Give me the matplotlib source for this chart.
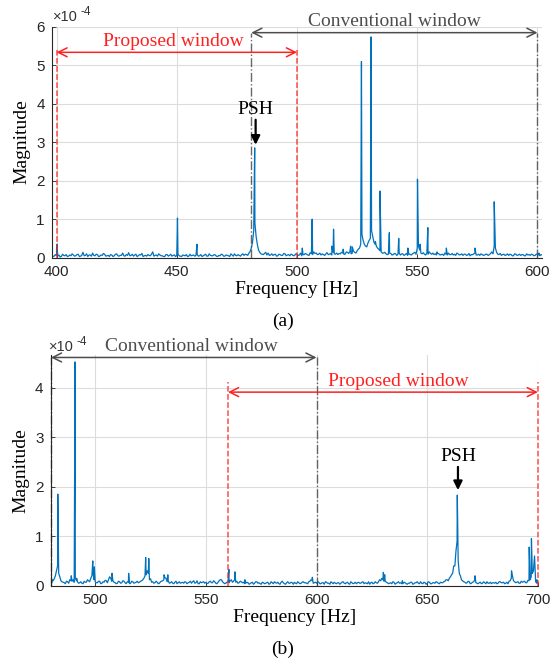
import matplotlib
matplotlib.use("Agg")
import matplotlib.pyplot as plt

# ---------------- data (magnitudes in units of 1e-4) ----------------
# (a) baseline noise, 1 Hz steps from 398 Hz, in hundredths of 1e-4
a_base_start = 398
a_base = [
    6, 4, 5, 7, 3, 6, 8, 4, 5, 7,
    5, 9, 4, 14, 6, 3, 7, 12, 5, 8,
    4, 6, 9, 5, 3, 7, 5, 10, 4, 6,
    5, 8, 13, 6, 4, 9, 5, 7, 3, 6,
    8, 5, 15, 6, 4, 7, 5, 3, 8, 6,
    4, 7, 6, 5, 3, 6, 8, 4, 5, 7,
    6, 4, 8, 5, 9, 4, 6, 5, 7, 3,
    5, 8, 4, 6, 3, 7, 10, 5, 6, 8,
    6, 8, 12, 25, 70, 55, 20, 10, 8, 14,
    12, 7, 6, 9, 5, 8, 6, 10, 7, 5,
    8, 6, 9, 7, 5, 8, 9, 6, 10, 15,
    12, 9, 7, 8, 10, 8, 11, 14, 9, 8,
    10, 12, 9, 14, 16, 12, 14, 18, 25, 60,
    35, 28, 45, 70, 40, 30, 22, 15, 12, 10,
    9, 11, 8, 10, 9, 7, 10, 8, 6, 9,
    10, 14, 25, 20, 10, 9, 12, 15, 9, 8,
    7, 10, 8, 6, 9, 12, 8, 7, 6, 10,
    8, 6, 9, 7, 5, 8, 12, 7, 6, 8,
    7, 9, 8, 15, 30, 14, 8, 6, 9, 7,
    6, 8, 5, 9, 7, 6, 8, 5, 7, 6,
    8, 6, 10, 5, 7,
]
# (a) baseline noise at the half-Hz points (398.5 Hz, 399.5 Hz, ...)
a_base_half = [
    3, 8, 4, 2, 9, 5, 3, 7, 10, 4,
    8, 3, 6, 5, 10, 7, 4, 6, 9, 3,
    7, 11, 4, 6, 8, 3, 9, 5, 6, 12,
    4, 6, 5, 9, 7, 3, 8, 11, 5, 4,
    6, 9, 4, 7, 10, 5, 3, 8, 4, 9,
    6, 3, 9, 4, 7, 5, 3, 9, 6, 4,
    8, 5, 3, 7, 4, 10, 5, 8, 4, 6,
    9, 4, 7, 5, 10, 4, 6, 8, 4, 10,
    9, 6, 16, 40, 90, 35, 14, 9, 11, 7,
    6, 10, 8, 4, 9, 6, 11, 5, 8, 9,
    5, 10, 6, 12, 8, 11, 7, 13, 8, 11,
    8, 12, 10, 6, 13, 9, 7, 10, 12, 11,
    14, 9, 15, 11, 10, 17, 12, 22, 35, 45,
    30, 38, 50, 55, 35, 25, 18, 12, 14, 8,
    12, 7, 11, 6, 12, 10, 6, 11, 9, 7,
    12, 9, 30, 12, 13, 7, 9, 11, 12, 10,
    11, 7, 9, 12, 7, 8, 11, 9, 12, 7,
    10, 9, 6, 11, 8, 10, 7, 9, 10, 6,
    9, 6, 11, 10, 25, 9, 11, 8, 6, 10,
    9, 5, 10, 6, 9, 8, 5, 10, 8, 9,
    5, 9, 7, 8, 10,
]
a_peak_freq = [400.2, 450.3, 458.4, 482.4, 502.2, 506.3, 514.5, 515.2, 519.2,
               522.3, 523.0, 526.8, 530.8, 532.6, 534.5, 538.4, 542.3, 546.1,
               550.1, 551.2, 554.4, 558.2, 562.1, 574.0, 582.0, 600.6]
a_peak_mag = [0.35, 1.03, 0.35, 2.85, 0.25, 1.00, 0.30, 0.74, 0.22,
              0.30, 0.28, 5.09, 5.73, 0.42, 1.73, 0.65, 0.50, 0.25,
              2.04, 0.35, 0.78, 0.15, 0.25, 0.25, 1.45, 0.12]

# (b) baseline noise, 1 Hz steps from 480 Hz, in hundredths of 1e-4
b_base_start = 480
b_base = [
    8, 10, 20, 40, 18, 8, 6, 9, 5, 10,
    12, 15, 8, 6, 5, 9, 7, 10, 15, 25,
    8, 6, 9, 5, 7, 10, 12, 15, 10, 6,
    5, 8, 6, 9, 4, 7, 5, 8, 6, 9,
    7, 10, 15, 22, 25, 14, 8, 6, 7, 5,
    9, 12, 15, 10, 6, 5, 7, 4, 8, 6,
    5, 7, 6, 9, 8, 5, 10, 4, 6, 8,
    7, 5, 9, 6, 8, 4, 10, 12, 6, 5,
    8, 10, 7, 12, 9, 6, 8, 7, 5, 6,
    4, 7, 5, 8, 6, 3, 6, 5, 7, 4,
    6, 8, 5, 4, 7, 6, 3, 8, 5, 6,
    7, 4, 6, 5, 8, 6, 4, 9, 10, 6,
    5, 7, 4, 6, 8, 5, 3, 6, 7, 4,
    6, 5, 8, 4, 7, 3, 6, 5, 4, 7,
    5, 8, 6, 4, 3, 7, 5, 6, 8, 10,
    12, 10, 6, 5, 4, 7, 5, 8, 6, 4,
    6, 3, 5, 7, 4, 6, 5, 8, 4, 6,
    5, 7, 4, 6, 8, 5, 7, 6, 9, 12,
    15, 22, 40, 70, 50, 20, 10, 7, 6, 8,
    5, 8, 6, 4, 7, 5, 6, 8, 5, 4,
    6, 7, 5, 8, 6, 4, 7, 9, 15, 10,
    6, 8, 5, 7, 9, 6, 10, 18, 30, 8,
    6,
]
# (b) baseline noise at the half-Hz points (480.5 Hz, 481.5 Hz, ...)
b_base_half = [
    6, 14, 30, 25, 10, 7, 4, 8, 12, 9,
    7, 10, 5, 8, 4, 7, 12, 8, 20, 12,
    6, 9, 4, 8, 11, 6, 18, 9, 7, 4,
    9, 5, 10, 6, 8, 4, 9, 5, 7, 6,
    9, 12, 20, 30, 12, 7, 5, 9, 4, 8,
    10, 16, 8, 5, 8, 4, 9, 6, 5, 7,
    8, 4, 7, 5, 10, 6, 4, 8, 7, 5,
    4, 8, 6, 10, 5, 7, 12, 8, 4, 7,
    6, 12, 9, 7, 5, 9, 6, 4, 7, 3,
    6, 3, 8, 5, 4, 7, 4, 6, 3, 8,
    4, 6, 7, 3, 9, 4, 6, 5, 7, 3,
    5, 8, 4, 7, 6, 5, 8, 12, 5, 7,
    8, 4, 6, 3, 7, 5, 8, 4, 5, 6,
    3, 7, 5, 6, 4, 8, 4, 7, 6, 5,
    7, 4, 5, 8, 6, 4, 8, 5, 12, 15,
    9, 7, 4, 6, 8, 3, 6, 5, 4, 7,
    4, 5, 7, 3, 6, 8, 4, 5, 7, 3,
    8, 4, 6, 5, 7, 4, 6, 8, 12, 10,
    18, 25, 40, 90, 25, 12, 8, 5, 9, 4,
    7, 12, 5, 6, 4, 8, 4, 5, 7, 6,
    5, 4, 8, 6, 7, 5, 4, 10, 20, 8,
    7, 5, 9, 8, 6, 11, 12, 25, 60, 5,
    4,
]
b_peak_freq = [480.6, 483.1, 489.2, 490.9, 491.6, 498.9, 499.6, 507.6, 515.1,
               522.8, 524.2, 531.1, 532.8, 557.1, 560.4, 563.1, 567.6, 598.1,
               630.2, 630.8, 638.8, 663.6, 671.6, 688.1, 696.1, 697.1, 699.6]
b_peak_mag = [0.12, 1.85, 0.20, 4.52, 0.15, 0.50, 0.38, 0.25, 0.25,
              0.57, 0.55, 0.22, 0.22, 0.12, 0.33, 0.28, 0.12, 0.17,
              0.27, 0.22, 0.10, 1.83, 0.20, 0.30, 0.78, 0.95, 0.12]

a_xticks = [400, 450, 500, 550, 600]
a_yticks = [0, 1, 2, 3, 4, 5, 6]
b_xticks = [500, 550, 600, 650, 700]
b_yticks = [0, 1, 2, 3, 4]

a_conv = (481, 600)
a_prop = (400, 500)
a_psh = 482.4
b_conv = (480, 600)
b_prop = (560, 700)
b_psh = 663.6


def merge(start, base, half, pf, pm):
    pts = [(start + i, v / 100.0) for i, v in enumerate(base)]
    pts += [(start + i + 0.5, v / 100.0) for i, v in enumerate(half)]
    pts += list(zip(pf, pm))
    pts.sort()
    return [p[0] for p in pts], [p[1] for p in pts]


# ---------------- style ----------------
SANS = "Liberation Sans"
SERIF = "Liberation Serif"
BLUE = "#0072BD"
RED = "#FF2020"
GRAY = "#4D4D4D"
TICKC = "#262626"

fig = plt.figure(figsize=(5.57, 6.62), dpi=100)
W, H = 557.0, 662.0


def make_ax(l, r, t, b):
    return fig.add_axes([l / W, 1 - b / H, (r - l) / W, (b - t) / H])


def style(ax, xticks, yticks):
    ax.set_xticks(xticks)
    ax.set_yticks(yticks)
    ax.grid(True, color="#DCDCDC", lw=0.8)
    ax.set_axisbelow(True)
    for s in ["top", "right"]:
        ax.spines[s].set_visible(False)
    for s in ["left", "bottom"]:
        ax.spines[s].set_color(TICKC)
        ax.spines[s].set_linewidth(0.8)
    ax.tick_params(direction="in", length=3, width=0.6, colors=TICKC,
                   labelsize=11, pad=5)
    for lab in ax.get_xticklabels() + ax.get_yticklabels():
        lab.set_fontfamily(SANS)


def hz_arrow(ax, x0, x1, y, color):
    ax.annotate("", xy=(x1, y), xytext=(x0, y),
                arrowprops=dict(arrowstyle="<->", color=color, lw=1.1,
                                mutation_scale=16, shrinkA=0, shrinkB=0),
                annotation_clip=False)


def psh(ax, x, ytext, y0, y1):
    ax.text(x, ytext, "PSH", family=SERIF, fontsize=14, ha="center",
            va="center")
    ax.annotate("", xy=(x, y1), xytext=(x, y0),
                arrowprops=dict(arrowstyle="-|>", color="k", lw=1.6,
                                mutation_scale=13, shrinkA=0, shrinkB=0))


def offset(ax, x, y):
    ax.text(x, y, "\u00d710", transform=fig.transFigure, family=SANS,
            fontsize=10.5, color="#333333", va="center", ha="left")
    ax.text(x + 0.050, y + 0.008, "-4", transform=fig.transFigure,
            family=SANS, fontsize=8.5, color="#333333", va="center",
            ha="left")


# ---------------- (a) ----------------
ax1 = make_ax(51.7, 542.3, 26.5, 257.7)
fx, fy = merge(a_base_start, a_base, a_base_half, a_peak_freq, a_peak_mag)
ax1.plot(fx, fy, color=BLUE, lw=0.9)
ax1.set_xlim(398, 602)
ax1.set_ylim(0, 6)
style(ax1, a_xticks, a_yticks)

for xv in a_conv:
    ax1.plot([xv, xv], [0, 5.84], ls="-.", color=GRAY, lw=1.0, alpha=0.85)
for xv in a_prop:
    ax1.plot([xv, xv], [0, 5.4], ls="--", color=RED, lw=1.1, alpha=0.8)
hz_arrow(ax1, a_conv[0], a_conv[1], 5.84, GRAY)
hz_arrow(ax1, a_prop[0], a_prop[1], 5.33, RED)
ax1.text(540.5, 6.12, "Conventional window", family=SERIF, fontsize=14,
         color=GRAY, ha="center", va="center", clip_on=False)
ax1.text(448.5, 5.61, "Proposed window", family=SERIF, fontsize=14,
         color=RED, ha="center", va="center")
psh(ax1, a_psh + 0.4, 3.84, 3.58, 2.93)
ax1.set_xlabel("Frequency [Hz]", family=SERIF, fontsize=14, labelpad=2)
ax1.set_ylabel("Magnitude", family=SERIF, fontsize=14, labelpad=4)
offset(ax1, 53 / W, 1 - 17 / H)
fig.text(283 / W, 1 - 321 / H, "(a)", family=SERIF, fontsize=14,
         ha="center", va="center")

# ---------------- (b) ----------------
ax2 = make_ax(50.5, 538.3, 355.0, 585.7)
gx, gy = merge(b_base_start, b_base, b_base_half, b_peak_freq, b_peak_mag)
ax2.plot(gx, gy, color=BLUE, lw=0.9)
ax2.set_xlim(479.8, 700.2)
ax2.set_ylim(0, 4.66)
style(ax2, b_xticks, b_yticks)

for xv in b_conv:
    ax2.plot([xv, xv], [0, 4.61], ls="-.", color=GRAY, lw=1.0, alpha=0.85,
             clip_on=False)
for xv in b_prop:
    ax2.plot([xv, xv], [0, 4.12], ls="--", color=RED, lw=1.1, alpha=0.8,
             clip_on=False)
hz_arrow(ax2, b_conv[0], b_conv[1], 4.61, GRAY)
hz_arrow(ax2, b_prop[0], b_prop[1], 3.91, RED)
ax2.text(543.5, 4.84, "Conventional window", family=SERIF, fontsize=14,
         color=GRAY, ha="center", va="center", clip_on=False)
ax2.text(636.8, 4.12, "Proposed window", family=SERIF, fontsize=14,
         color=RED, ha="center", va="center")
psh(ax2, b_psh + 0.3, 2.61, 2.40, 1.93)
ax2.set_xlabel("Frequency [Hz]", family=SERIF, fontsize=14, labelpad=2)
ax2.set_ylabel("Magnitude", family=SERIF, fontsize=14, labelpad=4)
offset(ax2, 49 / W, 1 - 347 / H)
fig.text(283 / W, 1 - 649 / H, "(b)", family=SERIF, fontsize=14,
         ha="center", va="center")

fig.savefig("out.png", dpi=100)
